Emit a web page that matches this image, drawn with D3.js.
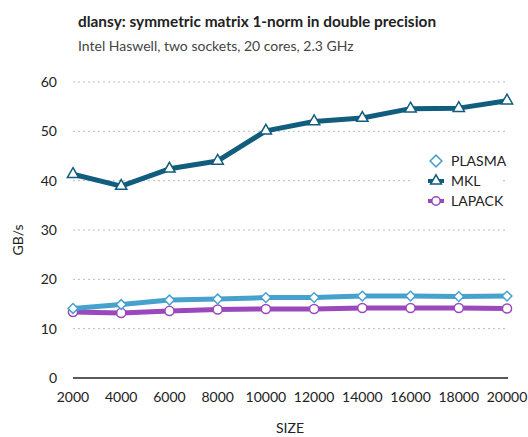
<!DOCTYPE html>
<html>
<head>
<meta charset="utf-8">
<script src="https://cdn.jsdelivr.net/npm/d3@7"></script>
<style>
  body { margin: 0; background: #fff; }
  text { font-family: "Lato", sans-serif; fill: #222; }
</style>
</head>
<body>
<script>
var sizes = [2000, 4000, 6000, 8000, 10000, 12000, 14000, 16000, 18000, 20000];
var plasma = [14.1, 14.9, 15.8, 16.0, 16.3, 16.3, 16.6, 16.6, 16.5, 16.6];
var mkl = [41.3, 38.9, 42.4, 44.0, 50.1, 52.0, 52.7, 54.6, 54.7, 56.2];
var lapack = [13.4, 13.2, 13.6, 13.9, 14.0, 14.0, 14.2, 14.2, 14.2, 14.1];
var yTicks = [0, 10, 20, 30, 40, 50, 60];

var width = 528, height = 437;
var svg = d3.select("body").append("svg")
    .attr("width", width)
    .attr("height", height);

var x = d3.scaleLinear().domain([2000, 20000]).range([73, 507]);
var y = d3.scaleLinear().domain([0, 60]).range([378, 82]);

// titles
svg.append("text").attr("x", 78).attr("y", 27)
    .attr("font-size", 15.4).attr("font-weight", "bold")
    .text("dlansy: symmetric matrix 1-norm in double precision");
svg.append("text").attr("x", 78).attr("y", 51)
    .attr("font-size", 14).style("fill", "#444")
    .text("Intel Haswell, two sockets, 20 cores, 2.3 GHz");

// grid
svg.selectAll("line.grid")
    .data(yTicks.slice(1))
  .enter().append("line")
    .attr("class", "grid")
    .attr("x1", 73).attr("x2", 507)
    .attr("y1", function(d) { return y(d) }).attr("y2", function(d) { return y(d) })
    .attr("stroke", "#bbb").attr("stroke-width", 1)
    .attr("stroke-dasharray", "2,3");

// y labels
svg.selectAll("text.ytick")
    .data(yTicks)
  .enter().append("text")
    .attr("class", "ytick")
    .attr("x", 57).attr("y", function(d) { return y(d) + 5 })
    .attr("text-anchor", "end").attr("font-size", 14)
    .text(function(d) { return d });

// x axis
svg.append("line").attr("x1", 73).attr("x2", 508)
    .attr("y1", y(0)).attr("y2", y(0))
    .attr("stroke", "#222").attr("stroke-width", 1.5);
svg.selectAll("text.xtick")
    .data(sizes)
  .enter().append("text")
    .attr("class", "xtick")
    .attr("x", function(d) { return x(d) }).attr("y", 402)
    .attr("text-anchor", "middle").attr("font-size", 14)
    .text(function(d) { return d });

svg.append("text").attr("x", 290).attr("y", 433)
    .attr("text-anchor", "middle").attr("font-size", 14).text("SIZE");
svg.append("text").attr("transform", "translate(23,240) rotate(-90)")
    .attr("text-anchor", "middle").attr("font-size", 14).text("GB/s");

var series = [
  {name: "PLASMA", values: plasma, color: "#47a1cd", shape: d3.symbolSquare, rot: 45, size: 48, lsize: 70},
  {name: "MKL", values: mkl, color: "#115d7e", shape: d3.symbolTriangle, rot: 0, size: 55, lsize: 50},
  {name: "LAPACK", values: lapack, color: "#9a48bb", shape: d3.symbolCircle, rot: 0, size: 65, lsize: 55}
];

var line = d3.line()
    .x(function(d, i) { return x(sizes[i]) })
    .y(function(d) { return y(d) });

// lapack first, then plasma, then mkl
[2, 0, 1].forEach(function(k) {
  var s = series[k];
  svg.append("path").datum(s.values)
      .attr("d", line)
      .attr("fill", "none").attr("stroke", s.color)
      .attr("stroke-width", 5).attr("stroke-linejoin", "round");
  svg.selectAll("path.m" + k)
      .data(s.values)
    .enter().append("path")
      .attr("class", "m" + k)
      .attr("d", d3.symbol().type(s.shape).size(s.size))
      .attr("transform", function(d, i) { return "translate(" + x(sizes[i]) + "," + y(d) + ") rotate(" + s.rot + ")" })
      .attr("fill", "#fff").attr("stroke", s.color).attr("stroke-width", 1.5);
});

// legend
var legend = svg.append("g").attr("transform", "translate(413,148)");
legend.append("rect").attr("width", 90).attr("height", 65).attr("fill", "#fff");
series.forEach(function(s, i) {
  var g = legend.append("g").attr("transform", "translate(23," + (13 + i * 20) + ")");
  if (s.name !== "PLASMA") {
    g.append("line").attr("x1", -8).attr("x2", 8)
        .attr("stroke", s.color).attr("stroke-width", 4);
  }
  g.append("path")
      .attr("d", d3.symbol().type(s.shape).size(s.lsize))
      .attr("transform", "rotate(" + s.rot + ")")
      .attr("fill", "#fff").attr("stroke", s.color).attr("stroke-width", 1.5);
  g.append("text").attr("x", 15).attr("y", 5)
      .attr("font-size", 14).text(s.name);
});
</script>
</body>
</html>
